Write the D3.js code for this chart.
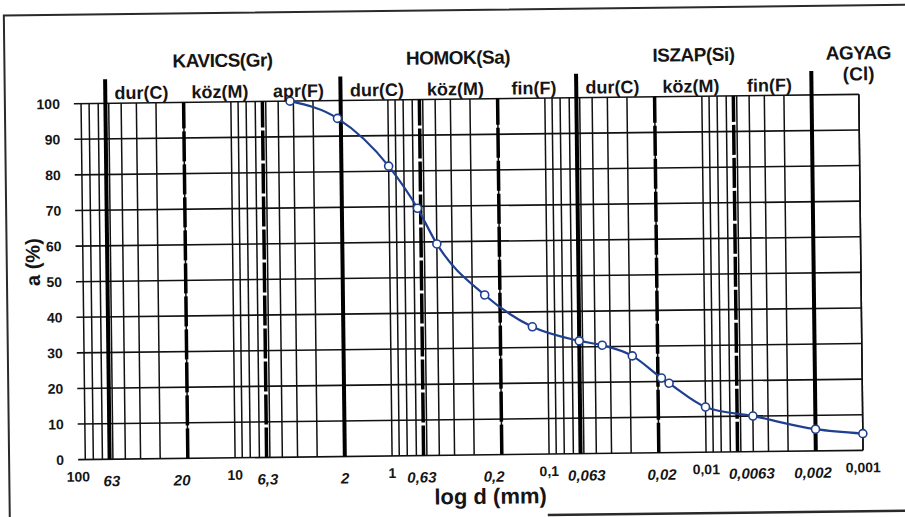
<!doctype html>
<html>
<head>
<meta charset="UTF-8">
<title>log d (mm)</title>
<script src="https://d3js.org/d3.v7.min.js"></script>
<style>
    body { margin: 0; background: #fff; }
    text { font-family: "Liberation Sans", Arial, sans-serif; font-weight: bold; fill: #151515; }
</style>
</head>
<body>
<svg id="chart" width="905" height="517"></svg>
<script>
    // szemeloszlasi gorbe pontjai
    var diam = [4.2, 2.1, 1, 0.66, 0.5, 0.25, 0.125, 0.063, 0.045, 0.029, 0.019, 0.017, 0.01, 0.005, 0.002, 0.001];
    var passing = [100, 95, 81.4, 69.5, 59.4, 44.9, 35.8, 31.7, 30.4, 27.3, 21, 19.5, 12.7, 10, 6.1, 4.7];

    var yTicks = [0, 10, 20, 30, 40, 50, 60, 70, 80, 90, 100];
    var decadeTicks = [100, 10, 1, 0.1, 0.01, 0.001];
    var decadeLabels = ["100", "10", "1", "0,1", "0,01", "0,001"];
    var limitTicks = [63, 20, 6.3, 2, 0.63, 0.2, 0.063, 0.02, 0.0063, 0.002];
    var limitLabels = ["63", "20", "6,3", "2", "0,63", "0,2", "0,063", "0,02", "0,0063", "0,002"];
    var mainLimits = [63, 2, 0.063, 0.002];

    var soilNames = ["KAVICS(Gr)", "HOMOK(Sa)", "ISZAP(Si)", "AGYAG"];
    var soilBounds = [[63, 2], [2, 0.063], [0.063, 0.002], [0.002, 0.0005]];
    var subNames = ["dur(C)", "köz(M)", "apr(F)", "dur(C)", "köz(M)", "fin(F)", "dur(C)", "köz(M)", "fin(F)"];
    var subBounds = [[63, 20], [20, 6.3], [6.3, 2], [2, 0.63], [0.63, 0.2], [0.2, 0.063], [0.063, 0.02], [0.02, 0.0063], [0.0063, 0.002]];

    // a hatarfeliratok nem pontosan a vonal alatt allnak (px eltolas)
    var limitNudge = [2, -6, 1, 0, -2, -8, 6, 3, 14, -3];

    var x = d3.scaleLog().domain([100, 0.001]).range([76, 861]);
    var y = d3.scaleLinear().domain([0, 100]).range([455, 99]);

    var svg = d3.select("#chart");
    // a beszkennelt lap enyhen ferde
    var g = svg.append("g").attr("transform", "rotate(-0.68 470 280)");

    // keret
    g.append("path").attr("d", "M7,530V10H912").attr("fill", "none").attr("stroke", "#2a2a2a").attr("stroke-width", 2);
    g.append("line").attr("x1", 545).attr("x2", 912).attr("y1", 516).attr("y2", 516)
        .attr("stroke", "#2a2a2a").attr("stroke-width", 2.5);

    // logaritmikus racs: 1..9 minden dekadban
    var minor = [];
    for (var e = 1; e >= -3; e--) {
        for (var k = 1; k < 10; k++) {
            var v = k * Math.pow(10, e);
            if (v <= 100) minor.push(v);
        }
    }
    minor.push(0.001);

    g.selectAll("line.minor").data(minor).enter().append("line")
        .attr("class", "minor")
        .attr("x1", function (d) { return x(d); })
        .attr("x2", function (d) { return x(d); })
        .attr("y1", y(0))
        .attr("y2", y(100))
        .attr("stroke", "#111")
        .attr("stroke-width", 1.5);

    g.selectAll("line.hgrid").data(yTicks).enter().append("line")
        .attr("class", "hgrid")
        .attr("x1", x(100))
        .attr("x2", x(0.001))
        .attr("y1", function (d) { return y(d); })
        .attr("y2", function (d) { return y(d); })
        .attr("stroke", "#111")
        .attr("stroke-width", 1.6);

    // frakciohatarok
    g.selectAll("line.limit").data(limitTicks).enter().append("line")
        .attr("class", "limit")
        .attr("x1", function (d) { return x(d); })
        .attr("x2", function (d) { return x(d); })
        .attr("y1", y(0))
        .attr("y2", function (d) { return mainLimits.indexOf(d) >= 0 ? 75 : y(100); })
        .attr("stroke", "#000")
        .attr("stroke-width", function (d) { return mainLimits.indexOf(d) >= 0 ? 4 : 3.5; })
        .attr("stroke-dasharray", function (d) { return mainLimits.indexOf(d) >= 0 ? null : "30,3"; });

    // gorbe
    var pts = diam.map(function (d, i) { return [d, passing[i]]; });
    var line = d3.line()
        .x(function (d) { return x(d[0]); })
        .y(function (d) { return y(d[1]); })
        .curve(d3.curveMonotoneX);

    g.append("path").datum(pts)
        .attr("d", line)
        .attr("fill", "none")
        .attr("stroke", "#1f3f90")
        .attr("stroke-width", 2.2);

    g.selectAll("circle").data(pts).enter().append("circle")
        .attr("cx", function (d) { return x(d[0]); })
        .attr("cy", function (d) { return y(d[1]); })
        .attr("r", 4)
        .attr("fill", "#fff")
        .attr("stroke", "#1f3f90")
        .attr("stroke-width", 1.6);

    // y tengely
    g.selectAll("text.ytick").data(yTicks).enter().append("text")
        .attr("class", "ytick")
        .attr("x", 62)
        .attr("y", function (d) { return y(d); })
        .attr("dy", "0.36em")
        .attr("text-anchor", "end")
        .style("font-size", "14px")
        .text(function (d) { return d; });

    g.append("text")
        .attr("transform", "translate(40,257) rotate(-90)")
        .attr("text-anchor", "middle")
        .style("font-size", "20px")
        .text("a (%)");

    // x tengely
    g.selectAll("text.xdec").data(decadeTicks).enter().append("text")
        .attr("class", "xdec")
        .attr("x", function (d) { return x(d); })
        .attr("y", 477)
        .attr("text-anchor", "middle")
        .style("font-size", "14px")
        .text(function (d, i) { return decadeLabels[i]; });

    g.selectAll("text.xlim").data(limitTicks).enter().append("text")
        .attr("class", "xlim")
        .attr("x", function (d, i) { return x(d) + limitNudge[i]; })
        .attr("y", 482)
        .attr("text-anchor", "middle")
        .style("font-size", "15px")
        .style("font-style", "italic")
        .text(function (d, i) { return limitLabels[i]; });

    g.append("text")
        .attr("x", 488)
        .attr("y", 504)
        .attr("text-anchor", "middle")
        .style("font-size", "22px")
        .text("log d (mm)");

    // fejlec
    function mid(b) { return (x(b[0]) + x(b[1])) / 2; }

    g.selectAll("text.soil").data(soilNames).enter().append("text")
        .attr("class", "soil")
        .attr("x", function (d, i) { return mid(soilBounds[i]); })
        .attr("y", 64)
        .attr("text-anchor", "middle")
        .style("font-size", "19px")
        .style("letter-spacing", "-0.5px")
        .text(function (d) { return d; });

    g.append("text")
        .attr("x", mid(soilBounds[3]))
        .attr("y", 85)
        .attr("text-anchor", "middle")
        .style("font-size", "19px")
        .text("(Cl)");

    g.selectAll("text.sub").data(subNames).enter().append("text")
        .attr("class", "sub")
        .attr("x", function (d, i) { return mid(subBounds[i]) - 3; })
        .attr("y", 95)
        .attr("text-anchor", "middle")
        .style("font-size", "18px")
        .text(function (d) { return d; });
</script>
</body>
</html>
